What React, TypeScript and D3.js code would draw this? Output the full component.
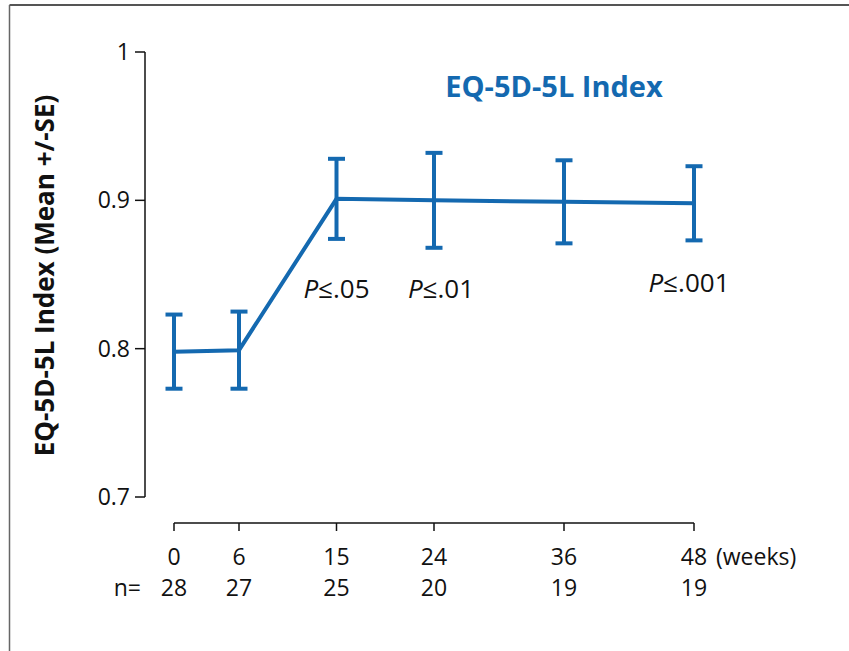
import React from "react";
import * as d3 from "d3";

// EQ-5D-5L index over time (mean ± SE)
const weeks = [0, 6, 15, 24, 36, 48];
const nCounts = [28, 27, 25, 20, 19, 19];
const means = [0.798, 0.799, 0.901, 0.9, 0.899, 0.898];
const se = [0.025, 0.026, 0.027, 0.032, 0.028, 0.025];
const yTicks = [0.7, 0.8, 0.9, 1];
const yTickLabels = ["0.7", "0.8", "0.9", "1"];
const pWeeks = [15, 24, 48];
const pLabels = [".05", ".01", ".001"];

const W = 849;
const H = 651;
const BLUE = "#1469b0";
const FONT = "'Open Sans', 'Noto Sans', sans-serif";

export default function App() {
  const x = d3.scaleLinear().domain([0, 48]).range([174, 694]);
  const y = d3.scaleLinear().domain([0.7, 1]).range([497, 52]);

  const line = d3
    .line<number>()
    .x((_, i) => x(weeks[i]))
    .y((d) => y(d));

  const axisY = 523;
  const capHalf = 8.5;
  const pOffsets = [0, 7, -5];

  return (
    <svg
      width={W}
      height={H}
      style={{ position: "absolute", left: 0, top: 0, background: "#fff" }}
      fontFamily={FONT}
    >
      {/* frame */}
      <line x1={9.5} y1={5} x2={W} y2={5} stroke="#555" strokeWidth={2} />
      <line x1={9.5} y1={5} x2={9.5} y2={H} stroke="#666" strokeWidth={1.5} />

      {/* y axis */}
      <line x1={145} y1={y(1)} x2={145} y2={y(0.7)} stroke="#111" strokeWidth={1.5} />
      {yTicks.map((t, i) => (
        <g key={t}>
          <line x1={135} x2={145} y1={y(t)} y2={y(t)} stroke="#111" strokeWidth={1.5} />
          <text x={130} y={y(t)} dy="0.35em" textAnchor="end" fontSize={23} fill="#111">
            {yTickLabels[i]}
          </text>
        </g>
      ))}
      <text
        transform={`translate(45,${(93 + 458) / 2}) rotate(-90)`}
        textAnchor="middle"
        dy="0.35em"
        fontSize={26}
        fontWeight="bold"
        fill="#111"
      >
        EQ-5D-5L Index (Mean +/-SE)
      </text>

      {/* x axis */}
      <line x1={x(0)} x2={x(48)} y1={axisY} y2={axisY} stroke="#111" strokeWidth={1.5} />
      {weeks.map((w, i) => (
        <g key={w}>
          <line x1={x(w)} x2={x(w)} y1={axisY} y2={axisY + 8} stroke="#111" strokeWidth={1.5} />
          <text x={x(w)} y={557} dy="0.35em" textAnchor="middle" fontSize={23} fill="#111">
            {w}
          </text>
          <text x={x(w)} y={588} dy="0.35em" textAnchor="middle" fontSize={23} fill="#111">
            {nCounts[i]}
          </text>
        </g>
      ))}
      <text x={716} y={557} dy="0.35em" fontSize={23} fill="#111">
        (weeks)
      </text>
      <text x={141} y={588} dy="0.35em" textAnchor="end" fontSize={23} fill="#111">
        n=
      </text>

      {/* error bars */}
      {weeks.map((w, i) => {
        const cx = x(w);
        const hi = y(means[i] + se[i]);
        const lo = y(means[i] - se[i]);
        return (
          <g key={`e${w}`} stroke={BLUE} strokeWidth={4}>
            <line x1={cx} x2={cx} y1={hi} y2={lo} />
            <line x1={cx - capHalf} x2={cx + capHalf} y1={hi} y2={hi} />
            <line x1={cx - capHalf} x2={cx + capHalf} y1={lo} y2={lo} />
          </g>
        );
      })}

      {/* mean line */}
      <path d={line(means) || ""} fill="none" stroke={BLUE} strokeWidth={4} />

      {/* significance labels */}
      {pWeeks.map((w, i) => (
        <text
          key={`p${w}`}
          x={x(w) + pOffsets[i]}
          y={i === 2 ? 283 : 289}
          dy="0.35em"
          textAnchor="middle"
          fontSize={26}
          fill="#111"
        >
          <tspan fontStyle="italic">P</tspan>≤{pLabels[i]}
        </text>
      ))}

      {/* title */}
      <text x={554} y={87} dy="0.35em" textAnchor="middle" fontSize={29} fontWeight="bold" fill={BLUE}>
        EQ-5D-5L Index
      </text>
    </svg>
  );
}
